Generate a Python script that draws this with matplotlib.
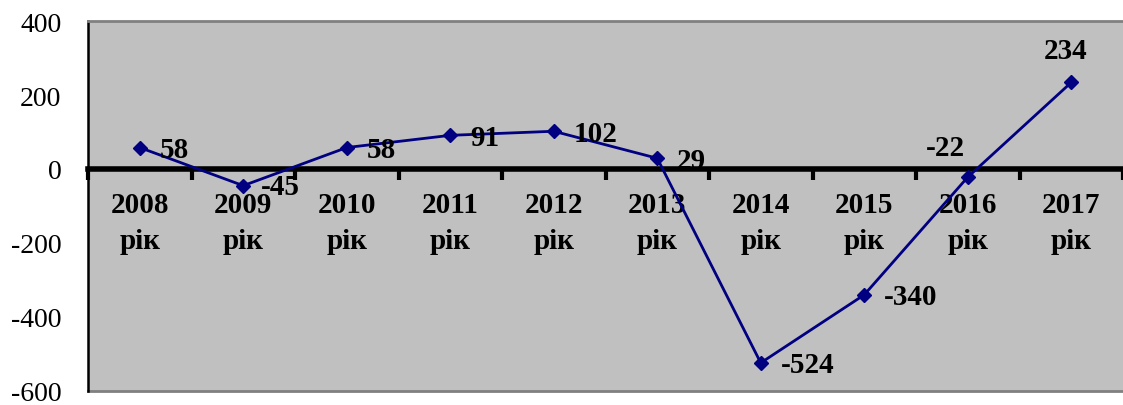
import matplotlib
matplotlib.use('Agg')
import matplotlib.pyplot as plt
from matplotlib.ticker import FixedLocator

years = ['2008', '2009', '2010', '2011', '2012', '2013', '2014', '2015', '2016', '2017']
values = [58, -45, 58, 91, 102, 29, -524, -340, -22, 234]
y_ticks = [-600, -400, -200, 0, 200, 400]

# label offsets in pixels (dx, dy, ha)
label_pos = [(20, -2, 'left'), (18, -1, 'left'), (20, -2, 'left'), (20, -2, 'left'),
             (20, -2, 'left'), (20, -2, 'left'), (20, -2, 'left'), (20, -2, 'left'),
             (-22, 30, 'center'), (-6, 32, 'center')]

plt.rcParams['font.family'] = ['Liberation Serif', 'DejaVu Serif']

fig = plt.figure(figsize=(11.23, 4.06), dpi=100)
ax = fig.add_axes([88 / 1123, 14 / 406, 1035 / 1123, 370 / 406])
ax.set_facecolor('#C0C0C0')

x = list(range(len(years)))
ax.plot(x, values, color='#000080', lw=2, marker='D', ms=7, zorder=5)

for xi, v, (dx, dy, ha) in zip(x, values, label_pos):
    ax.annotate(str(v), (xi, v), xytext=(dx, dy), textcoords='offset pixels',
                ha=ha, va='center', fontsize=21, fontweight='bold', color='black', zorder=6)

ax.set_xlim(-0.5, len(years) - 0.5)
ax.set_ylim(-600, 400)
ax.set_yticks(y_ticks)
ax.set_yticklabels([str(t) for t in y_ticks], fontsize=20)
ax.tick_params(axis='y', length=0, pad=19)

# category axis crosses at zero
ax.spines['bottom'].set_position(('data', 0))
ax.spines['bottom'].set_linewidth(4)
ax.spines['bottom'].set_zorder(4)
ax.spines['left'].set_linewidth(1.8)
ax.spines['top'].set_color('#808080')
ax.spines['top'].set_linewidth(2)
ax.spines['right'].set_visible(False)
ax.axhline(-600, color='#808080', lw=2, clip_on=False)

ax.set_xticks(x)
ax.set_xticklabels([y + '\nрік' for y in years], fontsize=21, fontweight='bold',
                   linespacing=1.4)
ax.tick_params(axis='x', which='major', length=0, pad=16)
ax.xaxis.set_minor_locator(FixedLocator([i - 0.5 for i in range(len(years) + 1)]))
ax.tick_params(axis='x', which='minor', length=8, width=3, direction='out', color='black')

fig.savefig('out.png', dpi=100)
